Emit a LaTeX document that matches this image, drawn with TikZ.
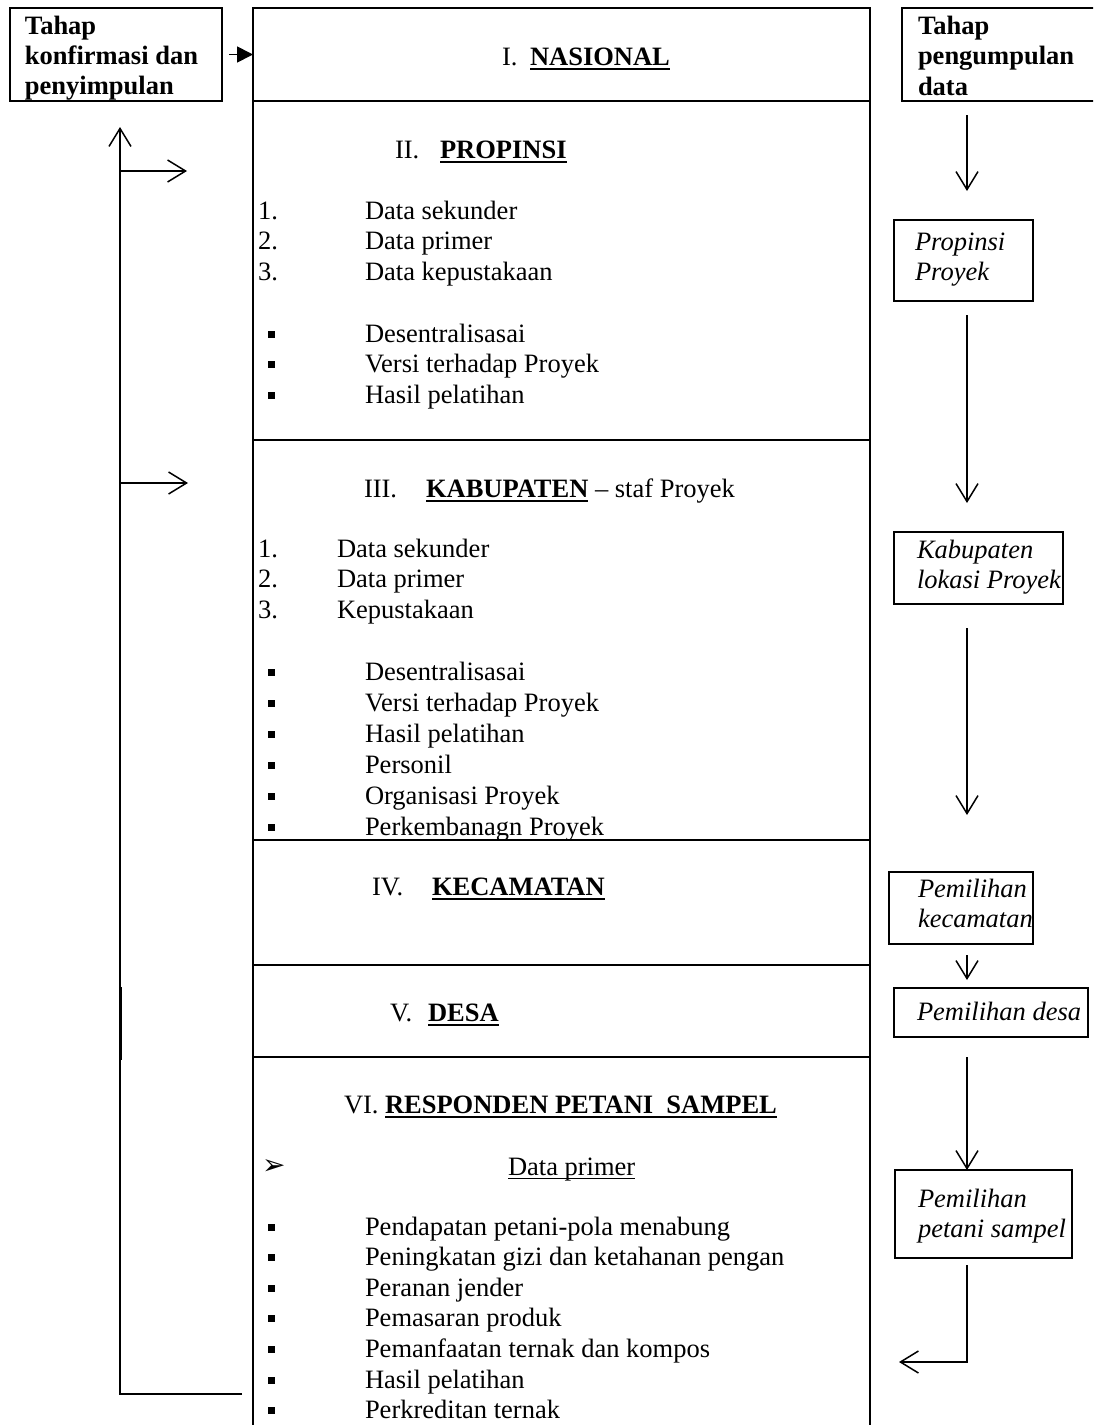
\documentclass[tikz,border=0pt]{standalone}
\usepackage{fontspec}
\setmainfont{Liberation Serif}
\newfontfamily\djvfont{DejaVu Sans}
\usetikzlibrary{arrows.meta}
\newcommand{\myfs}{\fontsize{13.25pt}{15.25pt}\selectfont}
\newsavebox{\ulbx}
\newcommand{\myul}[3]{\sbox{\ulbx}{#3}\rlap{\rule[-#1]{\wd\ulbx}{#2}}\usebox{\ulbx}}
\newcommand{\sqb}{\rule[2.2pt]{3.4pt}{3.4pt}}
\begin{document}
\begin{tikzpicture}[x=0.5pt,y=-0.5pt,
  txt/.style={anchor=base west, inner sep=0pt, outer sep=0pt, font=\myfs},
  bld/.style={txt, font=\myfs\bfseries},
  itl/.style={txt, font=\myfs\itshape},
  frame/.style={draw, line width=1.35pt, anchor=north west, inner sep=0pt, outer sep=0pt},
  ibox/.style={draw, line width=1pt, anchor=north west, inner sep=0pt, outer sep=0pt},
  flow/.style={line width=0.75pt, -{Straight Barb[length=9pt,width=11pt,line width=0.75pt]}},
  plain/.style={line width=0.75pt}]
\useasboundingbox (0,0) rectangle (1093,1425);
\clip (0,0) rectangle (1093,1425);
\fill[white] (0,0) rectangle (1093,1425);

% ---- frames ----
\node[frame, minimum width=106pt, minimum height=46.5pt] (lbox) at (10,8) {};
\node[frame, minimum width=308.5pt, minimum height=46.5pt] (sec1) at (253,8) {};
\node[frame, minimum width=308.5pt, minimum height=169.5pt] (sec2) at (253,101) {};
\node[frame, minimum width=308.5pt, minimum height=200pt] (sec3) at (253,440) {};
\node[frame, minimum width=308.5pt, minimum height=62.5pt] (sec4) at (253,840) {};
\node[frame, minimum width=308.5pt, minimum height=46pt] (sec5) at (253,965) {};
\node[frame, minimum width=308.5pt, minimum height=200pt] (sec6) at (253,1057) {};
\node[frame, minimum width=115pt, minimum height=46.5pt] (rbox) at (902,8) {};
\node[ibox, minimum width=69.5pt, minimum height=40.5pt] (ppbox) at (894,220) {};
\node[ibox, minimum width=84.5pt, minimum height=36pt] (kabbox) at (894,532) {};
\node[ibox, minimum width=72pt, minimum height=36pt] (kecbox) at (889,872) {};
\node[ibox, minimum width=97pt, minimum height=24.5pt] (desbox) at (894,988) {};
\node[ibox, minimum width=88.5pt, minimum height=44pt] (petbox) at (895,1170) {};

% ---- side box texts ----
\node[bld] (l1) at (25,34) {Tahap};
\node[bld] (l2) at (25,64) {konfirmasi dan};
\node[bld] (l3) at (25,94) {penyimpulan};
\node[bld] (r1) at (918,34) {Tahap};
\node[bld] (r2) at (918,64) {pengumpulan};
\node[bld] (r3) at (918,95) {data};
\node[itl] (p1) at (915,250) {Propinsi};
\node[itl] (p2) at (915,280) {Proyek};
\node[itl] (k1) at (917,558) {Kabupaten};
\node[itl] (k2) at (917,588) {lokasi Proyek};
\node[itl] (c1) at (918,897) {Pemilihan};
\node[itl] (c2) at (918,927) {kecamatan};
\node[itl] (d1) at (917,1020) {Pemilihan desa};
\node[itl] (s1) at (918,1207) {Pemilihan};
\node[itl] (s2) at (918,1237) {petani sampel};

% ---- I ----
\node[txt] (h1n) at (502,65) {I.};
\node[bld] (h1) at (530,65) {\myul{2.6pt}{1.3pt}{NASIONAL}};

% ---- II ----
\node[txt] (h2n) at (395,158) {II.};
\node[bld] (h2) at (440,158) {\myul{2.6pt}{1.3pt}{PROPINSI}};
\node[txt] (n21) at (258,219) {1.};
\node[txt] (t21) at (365,219) {Data sekunder};
\node[txt] (n22) at (258,249) {2.};
\node[txt] (t22) at (365,249) {Data primer};
\node[txt] (n23) at (258,280) {3.};
\node[txt] (t23) at (365,280) {Data kepustakaan};
\node[txt] (b24) at (268,342) {\sqb};
\node[txt] (t24) at (365,342) {Desentralisasai};
\node[txt] (b25) at (268,372) {\sqb};
\node[txt] (t25) at (365,372) {Versi terhadap Proyek};
\node[txt] (b26) at (268,403) {\sqb};
\node[txt] (t26) at (365,403) {Hasil pelatihan};

% ---- III ----
\node[txt] (h3n) at (364,497) {III.};
\node[txt] (h3) at (426,497) {\myul{2.6pt}{1.3pt}{\textbf{KABUPATEN}} -- staf Proyek};
\node[txt] (n31) at (258,557) {1.};
\node[txt] (t31) at (337,557) {Data sekunder};
\node[txt] (n32) at (258,587) {2.};
\node[txt] (t32) at (337,587) {Data primer};
\node[txt] (n33) at (258,618) {3.};
\node[txt] (t33) at (337,618) {Kepustakaan};
\node[txt] (b34) at (268,680) {\sqb};
\node[txt] (t34) at (365,680) {Desentralisasai};
\node[txt] (b35) at (268,711) {\sqb};
\node[txt] (t35) at (365,711) {Versi terhadap Proyek};
\node[txt] (b36) at (268,742) {\sqb};
\node[txt] (t36) at (365,742) {Hasil pelatihan};
\node[txt] (b37) at (268,773) {\sqb};
\node[txt] (t37) at (365,773) {Personil};
\node[txt] (b38) at (268,804) {\sqb};
\node[txt] (t38) at (365,804) {Organisasi Proyek};
\node[txt] (b39) at (268,835) {\sqb};
\node[txt] (t39) at (365,835) {Perkembanagn Proyek};

% ---- IV, V ----
\node[txt] (h4n) at (372,895) {IV.};
\node[bld] (h4) at (432,895) {\myul{2.6pt}{1.3pt}{KECAMATAN}};
\node[txt] (h5n) at (390,1021) {V.};
\node[bld] (h5) at (428,1021) {\myul{2.6pt}{1.3pt}{DESA}};

% ---- VI ----
\node[txt] (h6n) at (344,1113) {VI.};
\node[bld] (h6) at (385,1113) {\myul{2.6pt}{1.3pt}{RESPONDEN PETANI~~SAMPEL}};
\node[txt, font=\djvfont\fontsize{14pt}{16pt}\selectfont] (ar6) at (262,1174) {➢};
\node[txt] (t60) at (508,1175) {\myul{2pt}{0.7pt}{Data primer}};
\node[txt] (b61) at (268,1235) {\sqb};
\node[txt] (t61) at (365,1235) {Pendapatan petani-pola menabung};
\node[txt] (b62) at (268,1265) {\sqb};
\node[txt] (t62) at (365,1265) {Peningkatan gizi dan ketahanan pengan};
\node[txt] (b63) at (268,1296) {\sqb};
\node[txt] (t63) at (365,1296) {Peranan jender};
\node[txt] (b64) at (268,1326) {\sqb};
\node[txt] (t64) at (365,1326) {Pemasaran produk};
\node[txt] (b65) at (268,1357) {\sqb};
\node[txt] (t65) at (365,1357) {Pemanfaatan ternak dan kompos};
\node[txt] (b66) at (268,1388) {\sqb};
\node[txt] (t66) at (365,1388) {Hasil pelatihan};
\node[txt] (b67) at (268,1418) {\sqb};
\node[txt] (t67) at (365,1418) {Perkreditan ternak};

% ---- connector coordinates ----
\coordinate (a1s) at (967,115);  \coordinate (a1e) at (967,191);
\coordinate (a2s) at (967,315);  \coordinate (a2e) at (967,503);
\coordinate (a3s) at (967,628);  \coordinate (a3e) at (967,815);
\coordinate (a4s) at (967,955);  \coordinate (a4e) at (967,980);
\coordinate (a5s) at (967,1057);
\coordinate (a6s) at (967,1265); \coordinate (a6c) at (967,1362); \coordinate (a6e) at (899,1362);
\coordinate (fbs) at (242,1394); \coordinate (fbc) at (120,1394); \coordinate (fbt) at (120,127);
\coordinate (h1s) at (120,171);  \coordinate (h1e) at (187,171);
\coordinate (h2s) at (120,483);  \coordinate (h2e) at (188,483);

% ---- connectors ----
\draw[line width=0.9pt, -{Triangle[length=8pt,width=8pt]}] ([xshift=3.5pt]lbox.east) -- (sec1.west);
\draw[flow] (a1s) -- (a1e);
\draw[flow] (a2s) -- (a2e);
\draw[flow] (a3s) -- (a3e);
\draw[flow] (a4s) -- (a4e);
\draw[flow] (a5s) -- (a5s |- petbox.north);
\draw[flow] (a6s) -- (a6c) -- (a6e);
\draw[flow] (fbs) -- (fbc) -- (fbt);
\draw[plain, line width=1.1pt] (120.6,987) -- (120.6,1060);
\draw[flow] (h1s) -- (h1e);
\draw[flow] (h2s) -- (h2e);
\end{tikzpicture}
\end{document}
